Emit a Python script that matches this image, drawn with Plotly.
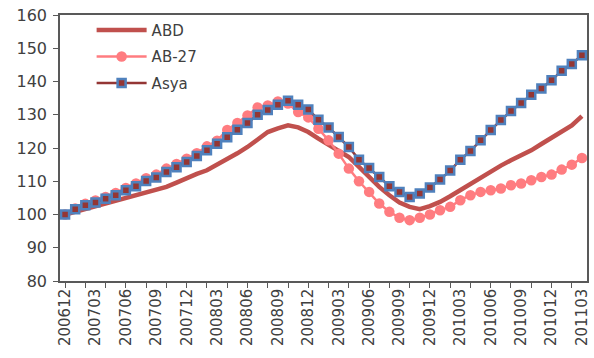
import plotly.graph_objects as go

months = [
    "200612",
    "200701", "200702", "200703", "200704", "200705", "200706",
    "200707", "200708", "200709", "200710", "200711", "200712",
    "200801", "200802", "200803", "200804", "200805", "200806",
    "200807", "200808", "200809", "200810", "200811", "200812",
    "200901", "200902", "200903", "200904", "200905", "200906",
    "200907", "200908", "200909", "200910", "200911", "200912",
    "201001", "201002", "201003", "201004", "201005", "201006",
    "201007", "201008", "201009", "201010", "201011", "201012",
    "201101", "201102", "201103",
]

abd = [
    100.0, 100.8, 101.7, 102.6, 103.3, 104.0, 104.8, 105.6, 106.5, 107.3,
    108.3, 109.6, 111.0, 112.2, 113.3, 114.9, 116.6, 118.4, 120.3, 122.6,
    124.8, 125.9, 126.8, 126.2, 124.8, 122.8, 121.0, 119.3, 117.3, 114.3,
    111.3, 108.3, 105.8, 103.6, 102.3, 101.6, 102.5, 103.8, 105.5, 107.4,
    109.3, 111.2, 113.0, 114.7, 116.3, 117.8, 119.3, 121.2, 123.0, 124.8,
    126.8, 129.6,
]

ab27 = [
    100.0, 101.8, 103.2, 104.2, 105.3, 106.5, 108.0, 109.3, 110.9, 112.0,
    113.8, 115.2, 116.8, 118.4, 120.5, 122.2, 125.4, 127.5, 129.8, 132.2,
    132.8, 134.0, 133.4, 130.8, 129.2, 125.8, 122.3, 118.3, 113.8, 110.0,
    106.8, 103.3, 100.8, 99.0, 98.3, 99.0, 100.0, 101.3, 102.3, 104.3,
    105.8, 106.8, 107.3, 107.8, 108.8, 109.3, 110.3, 111.3, 112.0, 113.5,
    115.0, 117.0,
]

asya = [
    100.0, 101.6, 102.8, 103.6, 104.7, 105.8, 107.3, 108.5, 110.1, 111.1,
    112.8, 114.2, 115.8, 117.6, 119.3, 121.3, 123.2, 125.5, 127.5, 130.0,
    131.4, 133.0, 134.2, 133.0, 131.6, 128.5, 126.2, 123.3, 120.3, 116.5,
    114.0, 111.3, 108.5, 106.8, 105.3, 106.3, 108.1, 110.5, 113.2, 116.5,
    119.1, 122.3, 125.4, 128.4, 131.1, 133.5, 136.0, 137.9, 140.4, 143.2,
    145.3, 147.9,
]

x = list(range(len(months)))
label_idx = x[::3]
label_txt = [months[i] for i in label_idx]

fig = go.Figure()
fig.add_trace(go.Scatter(
    x=x, y=abd, name="ABD", mode="lines", legendgroup="a",
    line=dict(color="#C0504D", width=4.5),
))
fig.add_trace(go.Scatter(
    x=x, y=ab27, name="AB-27", mode="lines+markers", legendgroup="b",
    line=dict(color="#FF7C80", width=2.5),
    marker=dict(symbol="circle", size=10.5, color="#FF7C80"),
))
fig.add_trace(go.Scatter(
    x=x, y=asya, name="Asya", mode="lines+markers", legendgroup="c",
    line=dict(color="#943634", width=2.5),
    marker=dict(symbol="square", size=8, color="#943634",
                line=dict(color="#4F81BD", width=2.5)),
))

yfont = dict(family="DejaVu Sans", size=16, color="#404040")
xfont = dict(family="DejaVu Sans", size=15, color="#404040")

fig.update_layout(
    width=594, height=358,
    margin=dict(l=60, r=7, t=15, b=77),
    paper_bgcolor="white", plot_bgcolor="white",
    showlegend=True,
    legend=dict(
        x=0.06, y=1.005, xanchor="left", yanchor="top",
        font=dict(family="DejaVu Sans", size=15, color="#404040"),
        bgcolor="rgba(0,0,0,0)", tracegroupgap=4, itemwidth=50,
    ),
    xaxis=dict(
        range=[-0.5, 51.5], automargin=False,
        tickmode="array", tickvals=label_idx, ticktext=label_txt,
        tickangle=-90, tickfont=xfont,
        ticks="", showgrid=False, zeroline=False,
        showline=True, linecolor="#595959", linewidth=1.5, mirror=True,
        minor=dict(tickmode="linear", tick0=0, dtick=2, ticks="outside",
                   ticklen=5, tickcolor="#595959", tickwidth=1, showgrid=False),
    ),
    yaxis=dict(
        range=[80, 160], dtick=10, tickfont=yfont, automargin=False,
        ticks="outside", ticklen=5, tickcolor="#595959", ticklabelstandoff=3,
        showgrid=False, zeroline=False,
        showline=True, linecolor="#595959", linewidth=1.5, mirror=True,
    ),
)

fig.write_html("out.html", config={"displayModeBar": False},
               post_script="document.body.style.margin='0';")
